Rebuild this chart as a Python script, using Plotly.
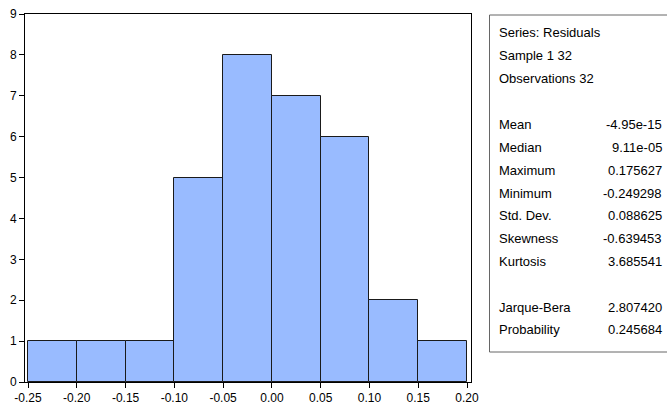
import plotly.graph_objects as go

# ---- data ----
bin_edges = [-0.25, -0.20, -0.15, -0.10, -0.05, 0.00, 0.05, 0.10, 0.15, 0.20]
counts = [1, 1, 1, 5, 8, 7, 6, 2, 1]
x_tick_vals = [-0.25, -0.20, -0.15, -0.10, -0.05, 0.00, 0.05, 0.10, 0.15, 0.20]
x_tick_text = ["-0.25", "-0.20", "-0.15", "-0.10", "-0.05", "0.00", "0.05", "0.10", "0.15", "0.20"]
y_tick_vals = [0, 1, 2, 3, 4, 5, 6, 7, 8, 9]

header_lines = ["Series: Residuals", "Sample 1 32", "Observations 32"]
stat_labels = ["Mean", "Median", "Maximum", "Minimum", "Std. Dev.", "Skewness", "Kurtosis"]
stat_values = ["-4.95e-15", "9.11e-05", "0.175627", "-0.249298", "0.088625", "-0.639453", "3.685541"]
test_labels = ["Jarque-Bera", "Probability"]
test_values = ["2.807420", "0.245684"]

# ---- layout geometry (pixels) ----
W, H = 667, 412
L, R, T, B = 25, 471, 14, 382

def px(xp):
    return (xp - L) / (R - L)

def py(yp):
    return (B - yp) / (B - T)

centers = [(bin_edges[i] + bin_edges[i + 1]) / 2 for i in range(len(counts))]
widths = [bin_edges[i + 1] - bin_edges[i] for i in range(len(counts))]

fig = go.Figure()
fig.add_trace(go.Bar(
    x=centers, y=counts, width=widths,
    marker=dict(color="#99BBFF", line=dict(color="#1a1a1a", width=1)),
    hoverinfo="skip",
))

font = dict(family="Liberation Sans, Arial, sans-serif", size=12, color="#000000")
box_font = dict(family="Liberation Sans, Arial, sans-serif", size=13, color="#000000")

annotations = []
line_y = [32, 55, 78]
for txt, yy in zip(header_lines, line_y):
    annotations.append(dict(xref="paper", yref="paper", x=px(497), y=py(yy), text=txt,
                            showarrow=False, xanchor="left", yanchor="middle", font=box_font))
stat_y0, step = 125, 22.7
for i, (lab, val) in enumerate(zip(stat_labels, stat_values)):
    yy = stat_y0 + i * step
    annotations.append(dict(xref="paper", yref="paper", x=px(497), y=py(yy), text=lab,
                            showarrow=False, xanchor="left", yanchor="middle", font=box_font))
    annotations.append(dict(xref="paper", yref="paper", x=px(664), y=py(yy), text=val,
                            showarrow=False, xanchor="right", yanchor="middle", font=box_font))
test_y0 = 307
for i, (lab, val) in enumerate(zip(test_labels, test_values)):
    yy = test_y0 + i * step
    annotations.append(dict(xref="paper", yref="paper", x=px(497), y=py(yy), text=lab,
                            showarrow=False, xanchor="left", yanchor="middle", font=box_font))
    annotations.append(dict(xref="paper", yref="paper", x=px(664), y=py(yy), text=val,
                            showarrow=False, xanchor="right", yanchor="middle", font=box_font))

shapes = [dict(type="rect", xref="paper", yref="paper",
               x0=px(489.5), x1=px(672), y0=py(352), y1=py(15),
               line=dict(color="#666666", width=1), fillcolor="rgba(0,0,0,0)")]

x_lo = -0.25 - 3 / 975.6
x_hi = 0.20 + 4 / 975.6

fig.update_layout(
    width=W, height=H,
    margin=dict(l=L, r=W - R, t=T, b=H - B, pad=0, autoexpand=False),
    paper_bgcolor="white", plot_bgcolor="white",
    showlegend=False, bargap=0,
    font=font,
    annotations=annotations,
    shapes=shapes,
    xaxis=dict(range=[x_lo, x_hi], tickvals=x_tick_vals, ticktext=x_tick_text,
               showline=True, linecolor="#000000", linewidth=1, mirror=True,
               ticks="outside", ticklen=5, tickcolor="#000000", tickwidth=1,
               showgrid=False, zeroline=False, tickfont=font),
    yaxis=dict(range=[0, 9], tickvals=y_tick_vals,
               showline=True, linecolor="#000000", linewidth=1, mirror=True,
               ticks="outside", ticklen=5, tickcolor="#000000", tickwidth=1,
               showgrid=False, zeroline=False, tickfont=font),
)

fig.write_html("out.html",
               config={"displayModeBar": False},
               post_script="document.body.style.margin='0px';document.body.style.padding='0px';document.body.style.overflow='hidden';")
